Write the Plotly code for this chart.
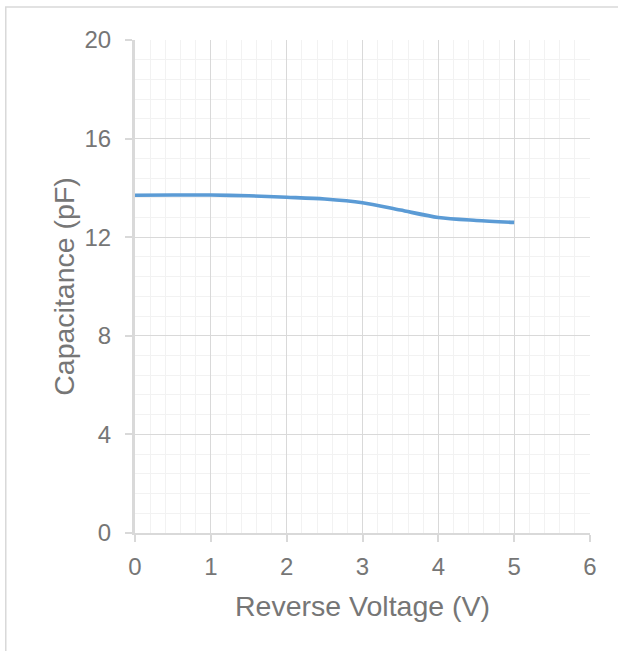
import plotly.graph_objects as go

voltage = [0, 0.5, 1, 1.5, 2, 2.5, 3, 3.5, 4, 4.5, 5]
capacitance = [13.7, 13.71, 13.71, 13.68, 13.62, 13.55, 13.4, 13.1, 12.8, 12.68, 12.6]

x_ticks = [0, 1, 2, 3, 4, 5, 6]
y_ticks = [0, 4, 8, 12, 16, 20]

fig = go.Figure()
fig.add_trace(go.Scatter(
    x=voltage, y=capacitance, mode="lines",
    line=dict(color="#5b9bd5", width=3.6, shape="spline", smoothing=0.8),
    showlegend=False,
))

font_color = "#767676"
fig.update_layout(
    width=618, height=651,
    paper_bgcolor="white", plot_bgcolor="white",
    margin=dict(l=135, r=28, t=40, b=118),
    font=dict(family="Liberation Sans, Arial, sans-serif", color=font_color, size=24),
    shapes=[dict(type="rect", xref="paper", yref="paper",
                 x0=-0.284, x1=1.2, y0=-0.5, y1=1.067,
                 line=dict(color="#d9d9d9", width=1.5), layer="below")],
)
fig.update_xaxes(
    range=[0, 6], tickvals=x_ticks, ticktext=[str(v) for v in x_ticks],
    showgrid=True, gridcolor="#d9d9d9", gridwidth=1.3,
    minor=dict(dtick=0.2, showgrid=True, gridcolor="#f2f2f2", gridwidth=1),
    showline=True, linecolor="#d9d9d9", linewidth=1.5,
    ticks="outside", ticklen=7, tickcolor="#d9d9d9", tickwidth=1.5,
    ticklabelstandoff=4,
    zeroline=False,
    title=dict(text="Reverse Voltage (V)", font=dict(size=28.5, color=font_color), standoff=18),
    tickfont=dict(size=24, color=font_color),
)
fig.update_yaxes(
    range=[0, 20], tickvals=y_ticks, ticktext=[str(v) for v in y_ticks],
    showgrid=True, gridcolor="#d9d9d9", gridwidth=1.3,
    minor=dict(dtick=0.8, showgrid=True, gridcolor="#f2f2f2", gridwidth=1),
    showline=True, linecolor="#d9d9d9", linewidth=3,
    ticks="outside", ticklen=7, tickcolor="#d9d9d9", tickwidth=1.5,
    ticklabelstandoff=9,
    zeroline=False,
    title=dict(text="Capacitance (pF)", font=dict(size=28.5, color=font_color), standoff=2),
    tickfont=dict(size=24, color=font_color),
)

fig.write_html("out.html", config={"displayModeBar": False},
               post_script="document.body.style.margin='0';")
